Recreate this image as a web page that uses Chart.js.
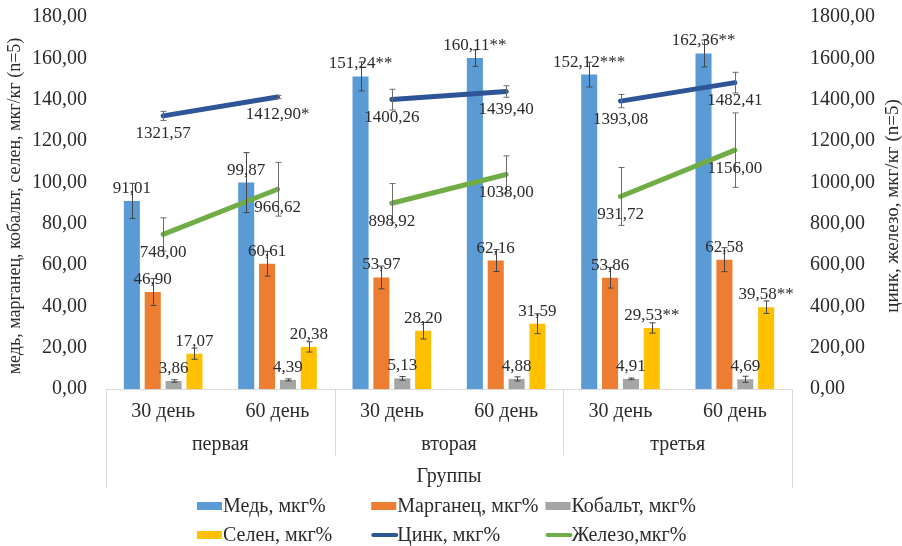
<!DOCTYPE html>
<html>
<head>
<meta charset="utf-8">
<script src="https://cdn.jsdelivr.net/npm/chart.js@4/dist/chart.umd.min.js"></script>
<style>
  html, body { margin: 0; padding: 0; background: #ffffff; }
  #wrap { width: 902px; height: 546px; }
</style>
</head>
<body>
<div id="wrap"><canvas id="c" width="902" height="546"></canvas></div>
<script>
// Categories: sampling day inside each group
const days = ['30 день', '60 день', '30 день', '60 день', '30 день', '60 день'];
const groups = ['первая', 'вторая', 'третья'];
const groupsTitle = 'Группы';

// Bar series (left axis), mkg/kg
const copper = [91.01, 99.87, 151.24, 160.11, 152.12, 162.36];
const copperErr = [8.5, 14.5, 7, 4, 6, 6.5];
const copperMarks = ['', '', '**', '**', '***', '**'];

const manganese = [46.90, 60.61, 53.97, 62.16, 53.86, 62.58];
const manganeseErr = [6.5, 6, 5.5, 5.3, 5, 5.8];

const cobalt = [3.86, 4.39, 5.13, 4.88, 4.91, 4.69];
const cobaltErr = [0.6, 0.5, 0.9, 1.0, 0.4, 1.5];

const selenium = [17.07, 20.38, 28.20, 31.59, 29.53, 39.58];
const seleniumErr = [2.7, 2.5, 4, 4.8, 2.5, 3];
const seleniumMarks = ['', '', '', '', '**', '**'];

// Line series (right axis), mkg/kg
const zinc = [1321.57, 1412.90, 1400.26, 1439.40, 1393.08, 1482.41];
const zincErr = [22, 8, 50, 28, 32, 50];
const zincMarks = ['', '*', '', '', '', ''];

const iron = [748.00, 966.62, 898.92, 1038.00, 931.72, 1156.00];
const ironErr = [80, 130, 95, 90, 140, 180];

// Axis ranges
const leftMax = 180, leftStep = 20;
const rightMax = 1800, rightStep = 200;

const leftTitle = 'медь, марганец, кобальт, селен, мкг/кг (n=5)';
const rightTitle = 'цинк, железо, мкг/кг (n=5)';

const FONT = "'Liberation Serif', 'Times New Roman', serif";
const TEXT = '#2b2b2b';
const fmt = v => v.toFixed(2).replace('.', ',');

// Lines only join the two days inside one group
const groupSegment = {
  borderColor: ctx => (ctx.p0DataIndex % 2 === 1 ? 'rgba(0,0,0,0)' : undefined)
};

const data = {
  labels: days,
  datasets: [
    { type: 'line', label: 'Цинк, мкг%', data: zinc, errors: zincErr, marks: zincMarks,
      yAxisID: 'y1', borderColor: '#2E5597', backgroundColor: '#2E5597',
      borderWidth: 5, borderCapStyle: 'round', pointRadius: 0, segment: groupSegment,
      order: 0, legendIndex: 4, labelPos: 'below' },
    { type: 'line', label: 'Железо,мкг%', data: iron, errors: ironErr,
      yAxisID: 'y1', borderColor: '#70AD47', backgroundColor: '#70AD47',
      borderWidth: 5, borderCapStyle: 'round', pointRadius: 0, segment: groupSegment,
      order: 0, legendIndex: 5, labelPos: 'below' },
    { label: 'Медь, мкг%', data: copper, errors: copperErr, marks: copperMarks,
      yAxisID: 'y', backgroundColor: '#5B9BD5', order: 1, legendIndex: 0, labelPos: 'above' },
    { label: 'Марганец, мкг%', data: manganese, errors: manganeseErr,
      yAxisID: 'y', backgroundColor: '#ED7D31', order: 1, legendIndex: 1, labelPos: 'above' },
    { label: 'Кобальт, мкг%', data: cobalt, errors: cobaltErr,
      yAxisID: 'y', backgroundColor: '#A5A5A5', order: 1, legendIndex: 2, labelPos: 'above' },
    { label: 'Селен, мкг%', data: selenium, errors: seleniumErr, marks: seleniumMarks,
      yAxisID: 'y', backgroundColor: '#FFC000', order: 1, legendIndex: 3, labelPos: 'above' }
  ]
};

// Whiskers for every point, drawn through the dataset's own y scale
const errorBars = {
  id: 'errorBars',
  afterDatasetsDraw(chart) {
    const ctx = chart.ctx;
    ctx.save();
    ctx.lineWidth = 1;
    chart.data.datasets.forEach((ds, di) => {
      const meta = chart.getDatasetMeta(di);
      const scale = chart.scales[ds.yAxisID];
      ctx.strokeStyle = ds.type === 'line' ? '#6b6b6b' : '#454545';
      meta.data.forEach((el, i) => {
        const v = ds.data[i], e = ds.errors[i];
        const x = Math.round(el.x) + 0.5;
        const yT = scale.getPixelForValue(v + e);
        const yB = scale.getPixelForValue(Math.max(0, v - e));
        ctx.beginPath();
        ctx.moveTo(x, yT); ctx.lineTo(x, yB);
        ctx.moveTo(x - 3, yT); ctx.lineTo(x + 3, yT);
        ctx.moveTo(x - 3, yB); ctx.lineTo(x + 3, yB);
        ctx.stroke();
      });
    });
    ctx.restore();
  }
};

// Value labels
const valueLabels = {
  id: 'valueLabels',
  afterDatasetsDraw(chart) {
    const ctx = chart.ctx;
    ctx.save();
    ctx.fillStyle = TEXT;
    ctx.font = `17px ${FONT}`;
    ctx.textAlign = 'center';
    chart.data.datasets.forEach((ds, di) => {
      const meta = chart.getDatasetMeta(di);
      meta.data.forEach((el, i) => {
        const txt = fmt(ds.data[i]) + (ds.marks ? ds.marks[i] : '');
        if (ds.labelPos === 'above') {
          ctx.textBaseline = 'bottom';
          ctx.fillText(txt, el.x, el.y - 4);
        } else {
          ctx.textBaseline = 'middle';
          ctx.fillText(txt, el.x, el.y + 18);
        }
      });
    });
    ctx.restore();
  }
};

// Group frame under the day labels, group names, axis titles and legend
const frameAndLegend = {
  id: 'frameAndLegend',
  afterDraw(chart) {
    const ctx = chart.ctx;
    const a = chart.chartArea;
    const n = days.length;
    const cw = (a.right - a.left) / n;
    const base = Math.round(a.bottom) + 0.5;
    ctx.save();
    ctx.strokeStyle = '#d9d9d9';
    ctx.lineWidth = 1;
    ctx.beginPath();
    [a.left, a.right].forEach(x => {
      const xx = Math.round(x) + 0.5;
      ctx.moveTo(xx, base); ctx.lineTo(xx, base + 99);
    });
    for (let g = 1; g < groups.length; g++) {
      const xx = Math.round(a.left + g * 2 * cw) + 0.5;
      ctx.moveTo(xx, base); ctx.lineTo(xx, base + 66);
    }
    ctx.stroke();

    ctx.fillStyle = TEXT;
    ctx.textAlign = 'center';
    ctx.textBaseline = 'middle';
    ctx.font = `20px ${FONT}`;
    groups.forEach((g, k) => {
      ctx.fillText(g, a.left + (k * 2 + 1) * cw, base + 55);
    });
    ctx.fillText(groupsTitle, (a.left + a.right) / 2, base + 87);

    // axis titles, both reading bottom-to-top
    const cy = (a.top + a.bottom) / 2 + 3;
    [[15, leftTitle, 18], [893, rightTitle, 19]].forEach(([x, t, size]) => {
      ctx.save();
      ctx.font = `${size}px ${FONT}`;
      ctx.translate(x, cy);
      ctx.rotate(-Math.PI / 2);
      ctx.fillText(t, 0, 0);
      ctx.restore();
    });

    // legend: 3 equal columns, 2 rows
    ctx.font = `20px ${FONT}`;
    ctx.textAlign = 'left';
    const items = chart.data.datasets.slice().sort((p, q) => p.legendIndex - q.legendIndex);
    const boxW = 25;
    const colW = Math.max(...items.map(d => boxW + 2 + ctx.measureText(d.label).width)) + 6;
    const x0 = 197;
    const rows = [506, 535];
    items.forEach((d, i) => {
      const x = x0 + (i % 3) * colW;
      const y = rows[Math.floor(i / 3)];
      if (d.type === 'line') {
        ctx.strokeStyle = d.borderColor;
        ctx.lineWidth = 4;
        ctx.lineCap = 'round';
        ctx.beginPath();
        ctx.moveTo(x + 2, y); ctx.lineTo(x + boxW, y);
        ctx.stroke();
      } else {
        ctx.fillStyle = d.backgroundColor;
        ctx.fillRect(x, y - 4, boxW, 8);
      }
      ctx.fillStyle = TEXT;
      ctx.fillText(d.label, x + boxW + 1, y + 1);
    });
    ctx.restore();
  }
};

// Fixed axis widths; vertical label padding removed so the plot spans the full height
const fixWidth = w => s => { s.width = w; s.paddingTop = 0; s.paddingBottom = 0; };

new Chart(document.getElementById('c'), {
  type: 'bar',
  data,
  plugins: [errorBars, valueLabels, frameAndLegend],
  options: {
    responsive: false,
    animation: false,
    devicePixelRatio: 1,
    layout: { padding: { top: 17, left: 0, right: 0, bottom: 0 } },
    datasets: {
      bar: { categoryPercentage: 0.73, barPercentage: 0.77 }
    },
    plugins: {
      legend: { display: false },
      tooltip: { enabled: false }
    },
    scales: {
      x: {
        offset: true,
        grid: { display: false, drawTicks: false },
        border: { display: true, color: '#d9d9d9' },
        ticks: { color: TEXT, font: { family: FONT, size: 20 }, padding: 11, maxRotation: 0 },
        afterFit: s => { s.height = 157; s.paddingLeft = 0; s.paddingRight = 0; }
      },
      y: {
        position: 'left',
        min: 0, max: leftMax,
        grid: { display: false, drawTicks: false },
        border: { display: false },
        ticks: { stepSize: leftStep, color: TEXT, padding: 19,
                 font: { family: FONT, size: 20 }, callback: v => fmt(v) },
        afterFit: fixWidth(106)
      },
      y1: {
        position: 'right',
        min: 0, max: rightMax,
        grid: { display: false, drawTicks: false },
        border: { display: false },
        ticks: { stepSize: rightStep, color: TEXT, padding: 18,
                 font: { family: FONT, size: 20 }, callback: v => fmt(v) },
        afterFit: fixWidth(110)
      }
    }
  }
});
</script>
</body>
</html>
